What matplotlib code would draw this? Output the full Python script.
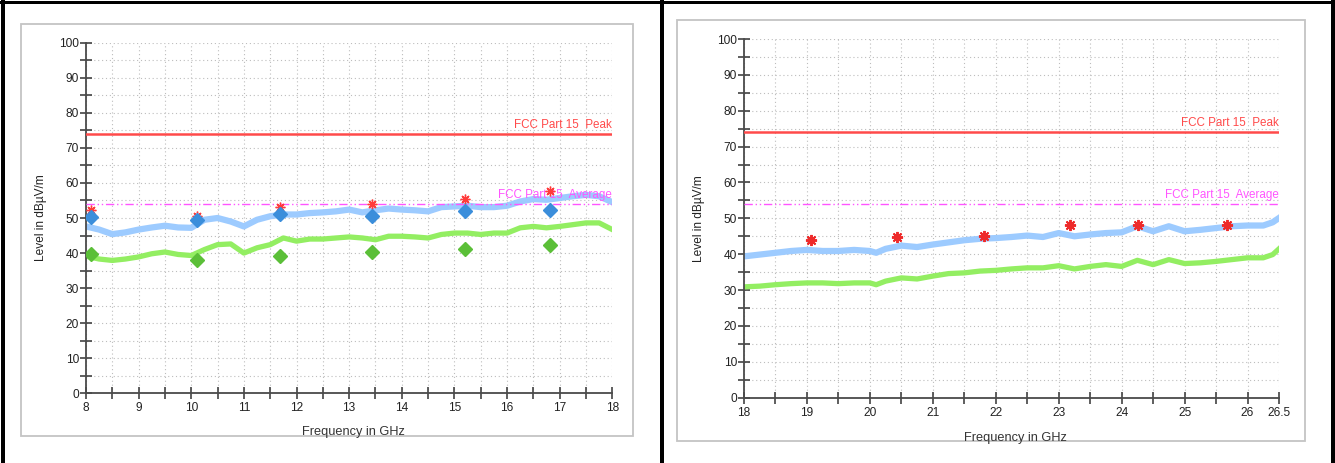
import numpy as np
import matplotlib
matplotlib.use("Agg")
import matplotlib.pyplot as plt
from matplotlib.lines import Line2D
from matplotlib.patches import Rectangle

plt.rcParams['font.family'] = ['Liberation Sans', 'DejaVu Sans']

# ---- data ----
# 8-18 GHz panel
f_low = [8.0, 8.25, 8.5, 8.75, 9.0, 9.25, 9.5, 9.75, 10.0, 10.25, 10.5, 10.75,
         11.0, 11.25, 11.5, 11.75, 12.0, 12.25, 12.5, 12.75, 13.0, 13.25, 13.5,
         13.75, 14.0, 14.25, 14.5, 14.75, 15.0, 15.25, 15.5, 15.75, 16.0, 16.25,
         16.5, 16.75, 17.0, 17.25, 17.5, 17.75, 18.0]
peak_low = [47.6, 46.7, 45.4, 45.9, 46.7, 47.3, 47.8, 47.3, 47.2, 49.5, 50.0, 49.0,
            47.6, 49.5, 50.5, 51.0, 51.0, 51.4, 51.6, 51.9, 52.4, 51.6, 52.2,
            52.7, 52.4, 52.2, 51.9, 53.1, 53.3, 53.5, 53.1, 53.1, 53.5, 54.7,
            55.4, 55.2, 55.7, 56.2, 56.6, 56.2, 54.5]
avg_low = [39.1, 38.3, 37.9, 38.3, 38.9, 39.8, 40.3, 39.6, 39.3, 41.0, 42.4, 42.6,
           40.0, 41.5, 42.4, 44.3, 43.4, 44.0, 44.0, 44.3, 44.6, 44.3, 43.8,
           44.8, 44.8, 44.6, 44.3, 45.3, 45.7, 45.7, 45.3, 45.7, 45.7, 47.2,
           47.6, 47.2, 47.6, 48.1, 48.6, 48.6, 46.7]
mk_f_low = [8.1, 10.1, 11.69, 13.43, 15.21, 16.82]
mk_star_low = [52.2, 50.5, 53.1, 54.1, 55.4, 57.6]
mk_qp_low = [50.3, 49.5, 51.0, 50.5, 52.1, 52.4]
mk_av_low = [39.6, 37.9, 39.3, 40.3, 41.2, 42.3]

# 18-26.5 GHz panel
f_high = [18.0, 18.25, 18.5, 18.75, 19.0, 19.25, 19.5, 19.75, 20.0, 20.1, 20.25,
          20.5, 20.75, 21.0, 21.25, 21.5, 21.75, 22.0, 22.25, 22.5, 22.75, 23.0,
          23.25, 23.5, 23.75, 24.0, 24.25, 24.5, 24.75, 25.0, 25.25, 25.5, 25.75,
          26.0, 26.25, 26.4, 26.5]
peak_high = [39.4, 39.9, 40.4, 40.9, 41.2, 40.9, 40.9, 41.2, 40.9, 40.4, 41.5,
             42.4, 42.0, 42.7, 43.3, 43.9, 44.3, 44.5, 44.8, 45.2, 44.8, 45.9,
             45.0, 45.5, 45.9, 46.1, 47.8, 46.4, 47.8, 46.4, 46.8, 47.3, 47.8,
             48.0, 48.0, 48.9, 50.1]
avg_high = [30.9, 31.1, 31.5, 31.8, 32.0, 32.0, 31.8, 32.0, 32.0, 31.5, 32.5,
            33.4, 33.1, 33.9, 34.6, 34.8, 35.3, 35.5, 35.9, 36.2, 36.2, 36.8,
            35.9, 36.6, 37.1, 36.6, 38.3, 37.1, 38.5, 37.4, 37.6, 38.0, 38.5,
            39.0, 39.0, 39.9, 41.5]
mk_f_high = [19.07, 20.43, 21.82, 23.18, 24.26, 25.67]
mk_star_high = [44.1, 44.7, 45.0, 48.1, 48.1, 48.1]

peak_limit = 74
avg_limit = 54

# ---- figure ----
W, H = 1335, 463
fig = plt.figure(figsize=(W / 100, H / 100), dpi=100)


def px(x0, y0, x1, y1):
    # pixel box (top-left origin) -> figure fraction rect
    return [x0 / W, 1 - y1 / H, (x1 - x0) / W, (y1 - y0) / H]


# gray frames around each chart
for (x0, y0, x1, y1) in [(20.5, 24, 632.5, 436), (677, 20, 1305, 441)]:
    r = px(x0, y0, x1, y1)
    fig.add_artist(Rectangle((r[0], r[1]), r[2], r[3], transform=fig.transFigure,
                             facecolor='white', edgecolor='#c4c4c4', lw=1.3, zorder=0))

# black page borders
bw = 4 * 0.72
fig.add_artist(Line2D([0, 1], [1 - 2 / H, 1 - 2 / H], color='black', lw=3 * 0.72,
                      transform=fig.transFigure))
for xp in [3, 662, 1333]:
    fig.add_artist(Line2D([xp / W, xp / W], [0, 1], color='black', lw=bw,
                          transform=fig.transFigure))

ax1 = fig.add_axes(px(86, 42.7, 612.3, 393.3))
ax2 = fig.add_axes(px(744, 39, 1279, 397.7))

blue_tr = '#9dcbff'
green_tr = '#93ee62'
blue_mk = '#3b8edb'
green_mk = '#5bbf38'
red_lim = '#ff4a4a'
mag_lim = '#ff55ff'
star_red = '#ee2a2a'


def style(ax, xmin, xmax, xticks, xlabels):
    ax.set_xlim(xmin, xmax)
    ax.set_ylim(0, 100)
    for s in ['top', 'right']:
        ax.spines[s].set_visible(False)
    for s in ['left', 'bottom']:
        ax.spines[s].set_color('#4a4a4a')
        ax.spines[s].set_linewidth(1.3)
    ax.set_xticks(xticks)
    ax.set_xticklabels(xlabels)
    ax.set_xticks(np.arange(xmin + 0.5, xmax, 1.0), minor=True)
    ax.set_yticks(np.arange(0, 101, 10))
    ax.set_yticks(np.arange(5, 100, 10), minor=True)
    ax.tick_params(which='both', direction='inout', length=8, width=1.1,
                   color='#333333', labelsize=8.6, labelcolor='#222222')
    ax.tick_params(axis='x', pad=2.5)
    ax.tick_params(axis='y', pad=1)
    ax.grid(True, which='both', linestyle=(0, (1, 2.5)), color='#bdbdbd', lw=0.8)
    ax.set_axisbelow(True)
    ax.set_ylabel('Level in dBµV/m', fontsize=8.6, color='#222222')
    ax.yaxis.set_label_coords(-0.074, 0.5)
    ax.set_xlabel('Frequency in GHz', fontsize=9.2, color='#333333')
    ax.axhline(peak_limit, color=red_lim, lw=1.8, zorder=4)
    ax.axhline(avg_limit, color=mag_lim, lw=1.0, linestyle=(0, (6, 2, 1, 2, 1, 2)), zorder=4)
    ax.text(xmax, peak_limit + 0.8, 'FCC Part 15  Peak', color=red_lim, fontsize=8.4,
            ha='right', va='bottom', zorder=5)
    ax.text(xmax, avg_limit + 0.8, 'FCC Part 15  Average', color=mag_lim, fontsize=8.4,
            ha='right', va='bottom', zorder=5)


# left chart
style(ax1, 8, 18, np.arange(8, 19, 1), [str(v) for v in range(8, 19)])
ax1.xaxis.set_label_coords(0.509, -0.093)
ax1.plot(f_low, peak_low, color=blue_tr, lw=4.5, zorder=2)
ax1.plot(f_low, avg_low, color=green_tr, lw=3.8, zorder=2)
ax1.plot(mk_f_low, mk_star_low, linestyle='none', marker=(8, 2, 0), markersize=7,
         markeredgecolor='#ff3b3b', markeredgewidth=1.0, zorder=6)
ax1.plot(mk_f_low, mk_qp_low, linestyle='none', marker='D', markersize=7,
         color=blue_mk, zorder=7)
ax1.plot(mk_f_low, mk_av_low, linestyle='none', marker='D', markersize=7,
         color=green_mk, zorder=7)

# right chart
xt2 = list(range(18, 27)) + [26.5]
style(ax2, 18, 26.5, xt2, [str(v) for v in xt2])
ax2.xaxis.set_label_coords(0.507, -0.096)
ax2.yaxis.set_label_coords(-0.073, 0.5)
ax2.plot(f_high, peak_high, color=blue_tr, lw=4.5, zorder=2)
ax2.plot(f_high, avg_high, color=green_tr, lw=3.8, zorder=2)
ax2.plot(mk_f_high, mk_star_high, linestyle='none', marker=(8, 2, 0), markersize=8,
         markeredgecolor=star_red, markeredgewidth=1.4, zorder=6)

fig.savefig('out.png', dpi=100)
